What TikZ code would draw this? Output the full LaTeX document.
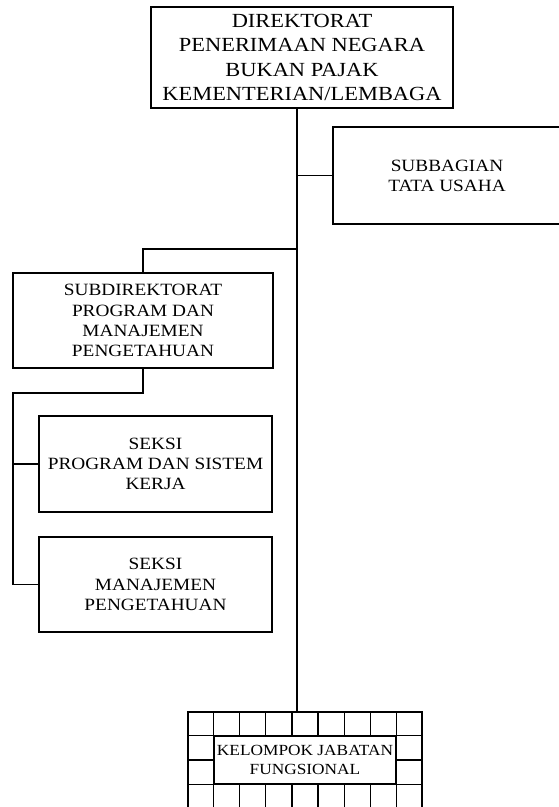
\documentclass[tikz,border=0pt]{standalone}
\usepackage{fontspec}
\setmainfont[FakeStretch=1.12]{Liberation Serif}
\usetikzlibrary{calc}
\tikzset{
  every picture/.style={line width=0.8pt},
  unit/.style={draw=black, inner sep=0pt, align=center, minimum width=#1},
  link/.style={draw=black, line width=0.75pt},
  toptext/.style={font=\fontsize{11.4}{13.9}\selectfont},
  subtext/.style={font=\fontsize{9.8}{11.5}\selectfont},
  jftext/.style={font=\fontsize{8.8}{10.4}\selectfont},
}
\begin{document}
\begin{tikzpicture}[x=0.02cm, y=-0.02cm]
  \useasboundingbox (0,0) rectangle (558,807);
  \node[unit=6.04cm, minimum height=2.02cm, toptext] (dir) at (302,57.5) {DIREKTORAT\\PENERIMAAN NEGARA\\BUKAN PAJAK\\KEMENTERIAN/LEMBAGA};
  \node[unit=4.56cm, minimum height=1.94cm, subtext] (tu) at (447,175.5) {SUBBAGIAN\\TATA USAHA};
  \node[unit=5.2cm, minimum height=1.9cm, subtext] (sd) at (143,320.5) {SUBDIREKTORAT\\PROGRAM DAN\\MANAJEMEN\\PENGETAHUAN};
  \node[unit=4.66cm, minimum height=1.92cm, subtext] (s1) at (155.5,464) {SEKSI\\PROGRAM DAN SISTEM\\KERJA};
  \node[unit=4.66cm, minimum height=1.9cm, subtext] (s2) at (155.5,584.5) {SEKSI\\MANAJEMEN\\PENGETAHUAN};
  % kelompok jabatan fungsional
  \node[unit=4.68cm, minimum height=1.92cm] (jf) at (305,760) {};
  \foreach \i in {1,...,8}
    \draw ($(jf.north west)!\i/9!(jf.north east)$) -- ($(jf.south west)!\i/9!(jf.south east)$);
  \foreach \j in {1,2,3}
    \draw ($(jf.north west)!\j/4!(jf.south west)$) -- ($(jf.north east)!\j/4!(jf.south east)$);
  \node[unit=3.648cm, minimum height=0.96cm, fill=white, jftext] (jft) at (jf.center) {KELOMPOK JABATAN\\FUNGSIONAL};
  % connectors
  \coordinate (trunk) at ($(dir.south)+(-5,0)$);
  \coordinate (jsd) at (297,249);
  \coordinate (bus) at (13,393);
  \draw[link] (trunk) -- (trunk |- jf.north);
  \draw[link] (trunk |- tu.west) -- (tu.west);
  \draw[link] (jsd) -| (sd.north);
  \draw[link] (sd.south) |- (bus) -- (bus |- s2.west) -- (s2.west);
  \draw[link] (bus |- s1.west) -- (s1.west);
\end{tikzpicture}
\end{document}
